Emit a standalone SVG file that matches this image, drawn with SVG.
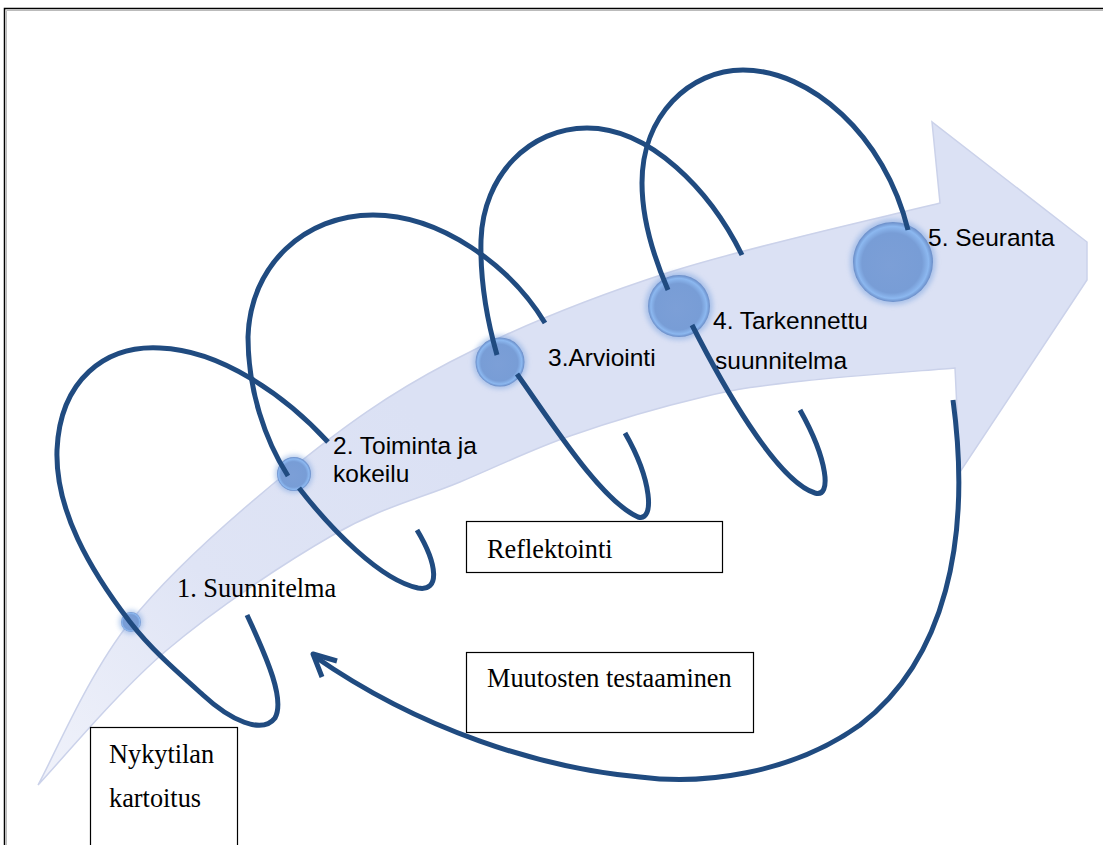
<svg xmlns="http://www.w3.org/2000/svg" width="1103" height="845" viewBox="0 0 1103 845">
<style>
.loop{fill:none;stroke:#204b80;stroke-width:5;stroke-linecap:butt;stroke-linejoin:round}
.sans{font-family:"Liberation Sans",Arial,sans-serif;font-size:24.5px;fill:#000}
.serif{font-family:"Liberation Serif","Times New Roman",serif;font-size:26.3px;fill:#000}
.box{fill:#fff;stroke:#000;stroke-width:1.2}
.bub{fill:url(#bubG)}
.glow{fill:#7fa6e0;opacity:.55;filter:url(#blur)}
</style>
<defs>
<linearGradient id="bandG" gradientUnits="userSpaceOnUse" x1="38" y1="785" x2="420" y2="420">
<stop offset="0" stop-color="#f0f2fa"/>
<stop offset="0.5" stop-color="#dfe4f5"/>
<stop offset="1" stop-color="#dbe1f4"/>
</linearGradient>
<radialGradient id="bubG" cx="0.5" cy="0.5" r="0.5" fx="0.45" fy="0.55">
<stop offset="0" stop-color="#7c9fd7"/>
<stop offset="0.75" stop-color="#789dd6"/>
<stop offset="0.9" stop-color="#8cb8f0"/>
<stop offset="1" stop-color="#6a8cc6"/>
</radialGradient>
<filter id="blur" x="-50%" y="-50%" width="200%" height="200%">
<feGaussianBlur stdDeviation="2.5"/>
</filter>
</defs>
<rect width="1103" height="845" fill="#fff"/>
<path d="M4.5,845 V8.5 H1103" fill="none" stroke="#000" stroke-width="1.5"/>
<path d="M6.5,845 V10.5 H1103" fill="none" stroke="#bbb" stroke-width="1"/>

<g id="band">
<path d="M38,785 C53.3,757.8 88,674.5 130,622 C172,569.5 236.7,513.3 290,470 C343.3,426.7 387.2,394.8 450,362 C512.8,329.2 585.3,299.5 667,273 C748.7,246.5 894.5,214.7 940,203 L932,122 L1087,242 L1087,280 L960,472 L955,368 C929.7,370.2 845,376.2 803,381 C761,385.8 741.8,387.8 703,397 C664.2,406.2 610.5,421.8 570,436 C529.5,450.2 499.5,465.5 460,482 C420.5,498.5 381.8,507 333,535 C284.2,563 216.2,608.3 167,650 C117.8,691.7 59.5,762.5 38,785 Z" fill="url(#bandG)" stroke="#cbd2ea" stroke-width="1.5"/>
</g>

<g id="node1">
<circle class="glow" cx="131" cy="622" r="12"/>
<circle class="bub" cx="131" cy="622" r="10"/>
<text class="serif" x="177" y="597">1. Suunnitelma</text>
</g>
<g id="node2">
<circle class="glow" cx="294" cy="474" r="19"/>
<circle class="bub" cx="294" cy="474" r="17"/>
<text class="sans" x="333" y="454">2. Toiminta ja</text>
<text class="sans" x="333" y="482">kokeilu</text>
</g>
<g id="node3">
<circle class="glow" cx="500" cy="362" r="27"/>
<circle class="bub" cx="500" cy="362" r="24.5"/>
<text class="sans" x="548" y="366">3.Arviointi</text>
</g>
<g id="node4">
<circle class="glow" cx="679" cy="306" r="34"/>
<circle class="bub" cx="679" cy="306" r="31"/>
<text class="sans" x="713" y="329">4. Tarkennettu</text>
<text class="sans" x="715" y="369">suunnitelma</text>
</g>
<g id="node5">
<circle class="glow" cx="893" cy="262" r="43"/>
<circle class="bub" cx="893" cy="262" r="40"/>
<text class="sans" x="928" y="246">5. Seuranta</text>
</g>
<g id="reflektointi">
<rect class="box" x="466.5" y="521.5" width="256" height="51"/>
<text class="serif" x="487" y="558">Reflektointi</text>
</g>
<g id="muutosten">
<rect class="box" x="466.5" y="652.5" width="287" height="80"/>
<text class="serif" x="487" y="687">Muutosten testaaminen</text>
</g>
<g id="nykytilan">
<rect class="box" x="90.5" y="727.5" width="147" height="130"/>
<text class="serif" x="109" y="763">Nykytilan</text>
<text class="serif" x="109" y="807">kartoitus</text>
</g>

<g id="connectors">
<path class="loop" d="M247,615 C268,660 285,700 275,718 C262,735 230,720 203,695 C175,670 150,648 130,622 C90,570 55,510 57,450 C60,380 105,345 160,348 C220,350 285,395 328,442"/>
<path class="loop" d="M299,488 C330,528 380,580 418,588 C440,592 438,565 417,530"/>
<path class="loop" d="M288,476 C265,440 248,390 248,337 C250,265 305,215 373,215 C440,215 510,265 545,323"/>
<path class="loop" d="M517,374 C550,420 600,500 638,517 C655,522 652,480 625,433"/>
<path class="loop" d="M497,355 C487,320 480,280 481,240 C483,175 530,128 587,128 C650,128 710,190 742,255"/>
<path class="loop" d="M692,325 C720,380 775,480 815,493 C832,498 828,460 800,410"/>
<path class="loop" d="M668,290 C655,260 642,220 642,183 C642,115 690,70 743,70 C810,70 885,135 908,230"/>
<path class="loop" d="M953,400 C972,540 945,660 860,725 C790,775 700,785 640,777 C540,768 420,730 314,656"/>
<polyline class="loop" points="337,661 313,654 322,677" stroke-linecap="round"/>
</g>
</svg>
